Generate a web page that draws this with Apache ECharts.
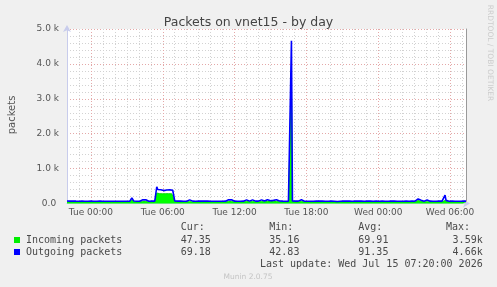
<!DOCTYPE html>
<html><head><meta charset="utf-8">
<script src="https://cdn.jsdelivr.net/npm/echarts@6/dist/echarts.min.js"></script>
<style>html,body{margin:0;padding:0;background:#f0f0f0;}#c{width:497px;height:287px;}</style>
</head><body><div id="c"></div>
<script>
// ---- data ----
const startDay = 0, startMinute = 22 * 60; // Mon 22:00
const stepMinutes = 5;
const dayNames = ['Mon', 'Tue', 'Wed'];
const xTickLabels = ['Tue 00:00', 'Tue 06:00', 'Tue 12:00', 'Tue 18:00', 'Wed 00:00', 'Wed 06:00'];
const yTickLabels = ['0.0 ', '1.0 k', '2.0 k', '3.0 k', '4.0 k', '5.0 k'];
const seriesNames = ['Incoming packets', 'Outgoing packets'];
const statHeaders = ['Cur:', 'Min:', 'Avg:', 'Max:'];
const incomingStats = ['47.35', '35.16', '69.91', '3.59k'];
const outgoingStats = ['69.18', '42.83', '91.35', '4.66k'];
const lastUpdate = 'Last update: Wed Jul 15 07:20:00 2026';

const outgoing = [
  70,95,72,68,66,100,70,68,65,67,66,68,        // Mon 22
  66,67,65,68,66,67,66,65,67,66,68,66,         // Mon 23
  67,66,68,66,67,66,66,105,110,72,104,68,      // Tue 00
  66,67,65,66,100,70,66,105,68,66,102,67,      // Tue 01
  66,65,67,66,68,66,66,98,67,66,65,67,         // Tue 02
  66,67,66,68,120,160,115,70,66,67,65,66,      // Tue 03
  67,66,68,66,105,70,66,108,104,67,66,68,      // Tue 04
  66,67,65,66,68,67,480,400,390,385,395,380,   // Tue 05
  375,370,372,380,385,378,382,390,386,384,380,392, // Tue 06
  72,68,66,67,66,100,68,66,67,66,65,67,        // Tue 07
  66,67,66,104,108,106,68,66,67,65,66,67,      // Tue 08
  67,100,66,68,66,65,67,66,104,70,106,67,      // Tue 09
  66,67,65,66,68,66,66,100,67,66,65,67,        // Tue 10
  66,68,66,67,104,68,106,66,70,105,67,66,      // Tue 11
  67,66,68,66,67,65,66,68,66,67,66,65,         // Tue 12
  104,70,106,68,108,66,104,70,105,68,110,70,   // Tue 13
  68,106,70,104,68,108,70,106,72,110,75,100,   // Tue 14
  80,95,130,90,72,70,106,110,104,70,68,66,     // Tue 15
  67,66,68,66,67,65,66,68,66,4660,70,66,       // Tue 16
  66,67,65,66,68,104,70,106,68,108,66,104,     // Tue 17
  68,66,100,67,66,65,67,66,68,66,67,65,        // Tue 18
  66,67,66,65,67,66,68,66,65,67,66,67,         // Tue 19
  66,67,65,66,66,60,42.83,58,66,67,66,65,      // Tue 20
  66,67,98,66,67,66,65,67,66,68,66,67,         // Tue 21
  66,67,100,66,67,65,66,68,66,67,66,98,        // Tue 22
  66,67,65,66,68,66,67,66,66,100,67,66,        // Tue 23
  67,66,65,66,67,66,68,66,67,65,66,100,        // Wed 00
  66,67,66,65,67,66,68,66,67,66,65,100,        // Wed 01
  67,66,68,66,67,102,66,65,67,66,68,66,        // Wed 02
  67,66,68,110,130,160,140,95,68,66,67,66,     // Wed 03
  67,98,66,65,67,66,68,66,67,66,65,67,         // Wed 04
  66,67,65,66,68,66,67,240,90,66,67,66,        // Wed 05
  67,66,68,66,67,65,66,68,66,67,66,65,         // Wed 06
  66,67,68,69,69.18                            // Wed 07
];
const incoming = [
  48,55,47,46,45,52,47,46,45,46,45,46,         // Mon 22
  46,45,45,47,46,46,45,44,46,45,47,46,         // Mon 23
  46,45,47,45,46,45,45,55,58,48,56,47,         // Tue 00
  45,46,45,45,52,47,45,54,46,45,53,46,         // Tue 01
  46,45,46,45,47,46,45,50,46,45,44,46,         // Tue 02
  46,46,45,47,80,110,78,48,45,46,44,45,        // Tue 03
  46,45,47,45,54,47,45,55,53,46,45,47,         // Tue 04
  45,46,44,45,47,46,300,290,285,280,290,280,   // Tue 05
  278,275,276,280,282,278,280,282,280,278,270,265, // Tue 06
  60,47,46,45,46,52,46,45,46,45,44,46,         // Tue 07
  46,45,46,53,55,54,46,45,46,44,45,46,         // Tue 08
  46,52,45,47,45,44,46,45,54,47,55,46,         // Tue 09
  45,46,44,45,47,46,45,51,46,45,44,46,         // Tue 10
  45,47,45,46,54,47,55,45,48,54,46,45,         // Tue 11
  46,45,47,45,46,44,45,47,45,46,45,44,         // Tue 12
  54,48,55,47,56,46,54,48,55,47,57,48,         // Tue 13
  47,55,48,54,47,56,48,55,49,57,50,52,         // Tue 14
  55,65,95,62,48,47,55,56,54,47,46,45,         // Tue 15
  46,45,47,45,46,44,45,47,46,3590,60,45,       // Tue 16
  45,46,44,45,47,54,48,55,47,56,45,54,         // Tue 17
  47,45,52,46,45,44,46,45,47,45,46,44,         // Tue 18
  45,46,45,44,46,45,47,45,44,46,45,46,         // Tue 19
  45,46,44,45,45,40,35.16,40,45,46,45,44,      // Tue 20
  45,46,50,45,46,45,44,46,45,47,45,46,         // Tue 21
  45,46,51,45,46,44,45,47,45,46,45,50,         // Tue 22
  45,46,44,45,47,45,46,45,45,51,46,45,         // Tue 23
  46,45,44,45,46,45,47,45,46,44,45,51,         // Wed 00
  45,46,45,44,46,45,47,45,46,45,44,51,         // Wed 01
  46,45,47,45,46,52,45,44,46,45,47,45,         // Wed 02
  46,45,47,60,85,110,95,60,47,45,46,45,        // Wed 03
  46,50,45,44,46,45,47,45,46,45,44,46,         // Wed 04
  45,46,44,45,47,45,46,85,55,45,46,45,         // Wed 05
  46,45,47,45,46,44,45,47,45,46,45,44,         // Wed 06
  45,46,47,47,47.35                            // Wed 07
];

// category labels (time of each 5-minute sample)
const categories = outgoing.map((_, i) => {
  const m = startMinute + i * stepMinutes;
  const d = startDay + Math.floor(m / 1440);
  const mm = m % 1440;
  const h = Math.floor(mm / 60), mi = mm % 60;
  return dayNames[d] + ' ' + String(h).padStart(2, '0') + ':' + String(mi).padStart(2, '0');
});

const sans = 'DejaVu Sans';
const mono = 'DejaVu Sans Mono';
const minorC = '#d2d2d2', majorC = '#e4a8a8';
const hourColors = [minorC, minorC, majorC, minorC, minorC, minorC];

const chart = echarts.init(document.getElementById('c'), null, {renderer: 'canvas'});
const textG = [];
const cols = [180.7, 269.3, 358.3];
const rowsY = [227.5, 240, 252];
const txtC = '#4a4a4a';
statHeaders.forEach((h, k) => {
  if (k < 3) textG.push({type: 'text', x: cols[k], y: rowsY[0], style: {text: h, fill: txtC, font: '10px "' + mono + '"', align: 'left', verticalAlign: 'middle'}});
  else textG.push({type: 'text', x: 470, y: rowsY[0], style: {text: h, fill: txtC, font: '10px "' + mono + '"', align: 'right', verticalAlign: 'middle'}});
});
[incomingStats, outgoingStats].forEach((arr, r) => {
  arr.forEach((v, k) => {
    if (k < 3) textG.push({type: 'text', x: cols[k], y: rowsY[r + 1], style: {text: v, fill: txtC, font: '10px "' + mono + '"', align: 'left', verticalAlign: 'middle'}});
    else textG.push({type: 'text', x: 482.7, y: rowsY[r + 1], style: {text: v, fill: txtC, font: '10px "' + mono + '"', align: 'right', verticalAlign: 'middle'}});
  });
});
textG.push({type: 'text', x: 482.7, y: 264, style: {text: lastUpdate, fill: txtC, font: '10px "' + mono + '"', align: 'right', verticalAlign: 'middle'}});
textG.push({type: 'text', x: 248, y: 277, style: {text: 'Munin 2.0.75', fill: '#c4c4c4', font: '7.5px "' + sans + '"', align: 'center', verticalAlign: 'middle'}});
textG.push({type: 'text', x: 12, y: 115, rotation: Math.PI / 2, style: {text: 'packets', fill: '#555', font: '10px "' + sans + '"', align: 'center', verticalAlign: 'middle'}});
textG.push({type: 'text', x: 490, y: 53, rotation: -Math.PI / 2, style: {text: 'RRDTOOL / TOBI OETIKER', fill: '#cccccc', font: '7.5px "' + sans + '"', align: 'center', verticalAlign: 'middle'}});

chart.setOption({
  animation: false,
  backgroundColor: '#f0f0f0',
  title: {text: 'Packets on vnet15 - by day', left: 'center', top: 11,
    textStyle: {fontFamily: sans, fontSize: 12.5, fontWeight: 'normal', color: '#444'}},
  legend: {data: seriesNames, orient: 'vertical', left: 14, top: 234, itemGap: 0, itemWidth: 6, itemHeight: 6,
    padding: 0, icon: 'rect', selectedMode: false,
    textStyle: {fontFamily: mono, fontSize: 10, color: txtC, lineHeight: 12, padding: [0, 0, 0, 1]}},
  grid: {left: 67, right: 31, top: 29, bottom: 83.5, show: true, backgroundColor: '#ffffff', borderWidth: 0},
  xAxis: {type: 'category', data: categories, boundaryGap: false,
    axisLine: {show: true, lineStyle: {color: '#c8ccec', width: 1}, symbol: ['none', 'arrow'], symbolSize: [6, 7], symbolOffset: [0, 4]},
    axisTick: {show: false},
    axisLabel: {interval: (i, v) => xTickLabels.includes(v), formatter: v => v, color: '#555', fontFamily: sans, fontSize: 9, margin: 5},
    splitLine: {show: true, interval: (i, v) => v.endsWith(':00'), lineStyle: {color: hourColors, type: [1, 2], width: 1}}},
  yAxis: [{type: 'value', min: 0, max: 5000, interval: 1000,
    axisLine: {show: true, lineStyle: {color: '#c8ccec', width: 1}, symbol: ['none', 'arrow'], symbolSize: [6, 7], symbolOffset: [0, 4]},
    axisTick: {show: false},
    axisLabel: {formatter: v => yTickLabels[Math.round(v / 1000)], color: '#555', fontFamily: sans, fontSize: 9, margin: 8},
    splitLine: {show: true, lineStyle: {color: majorC, type: [1, 2], width: 1}},
    minorTick: {show: false, splitNumber: 5},
    minorSplitLine: {show: true, lineStyle: {color: minorC, type: [1, 2], width: 1}}},
   {type: 'value', min: 0, max: 5000, position: 'right',
    axisLine: {show: true, lineStyle: {color: '#999', width: 1}}, axisTick: {show: false}, axisLabel: {show: false}, splitLine: {show: false}}],
  series: [
    {name: seriesNames[0], type: 'line', data: incoming, symbol: 'none', z: 2,
     itemStyle: {color: '#00ee00'}, lineStyle: {color: '#00dd00', width: 1}, areaStyle: {color: '#00ff00', opacity: 1}},
    {name: seriesNames[1], type: 'line', data: outgoing, symbol: 'none', z: 3,
     itemStyle: {color: '#0000ff'}, lineStyle: {color: '#0000ff', width: 1.6}}
  ],
  graphic: textG
});
</script></body></html>
